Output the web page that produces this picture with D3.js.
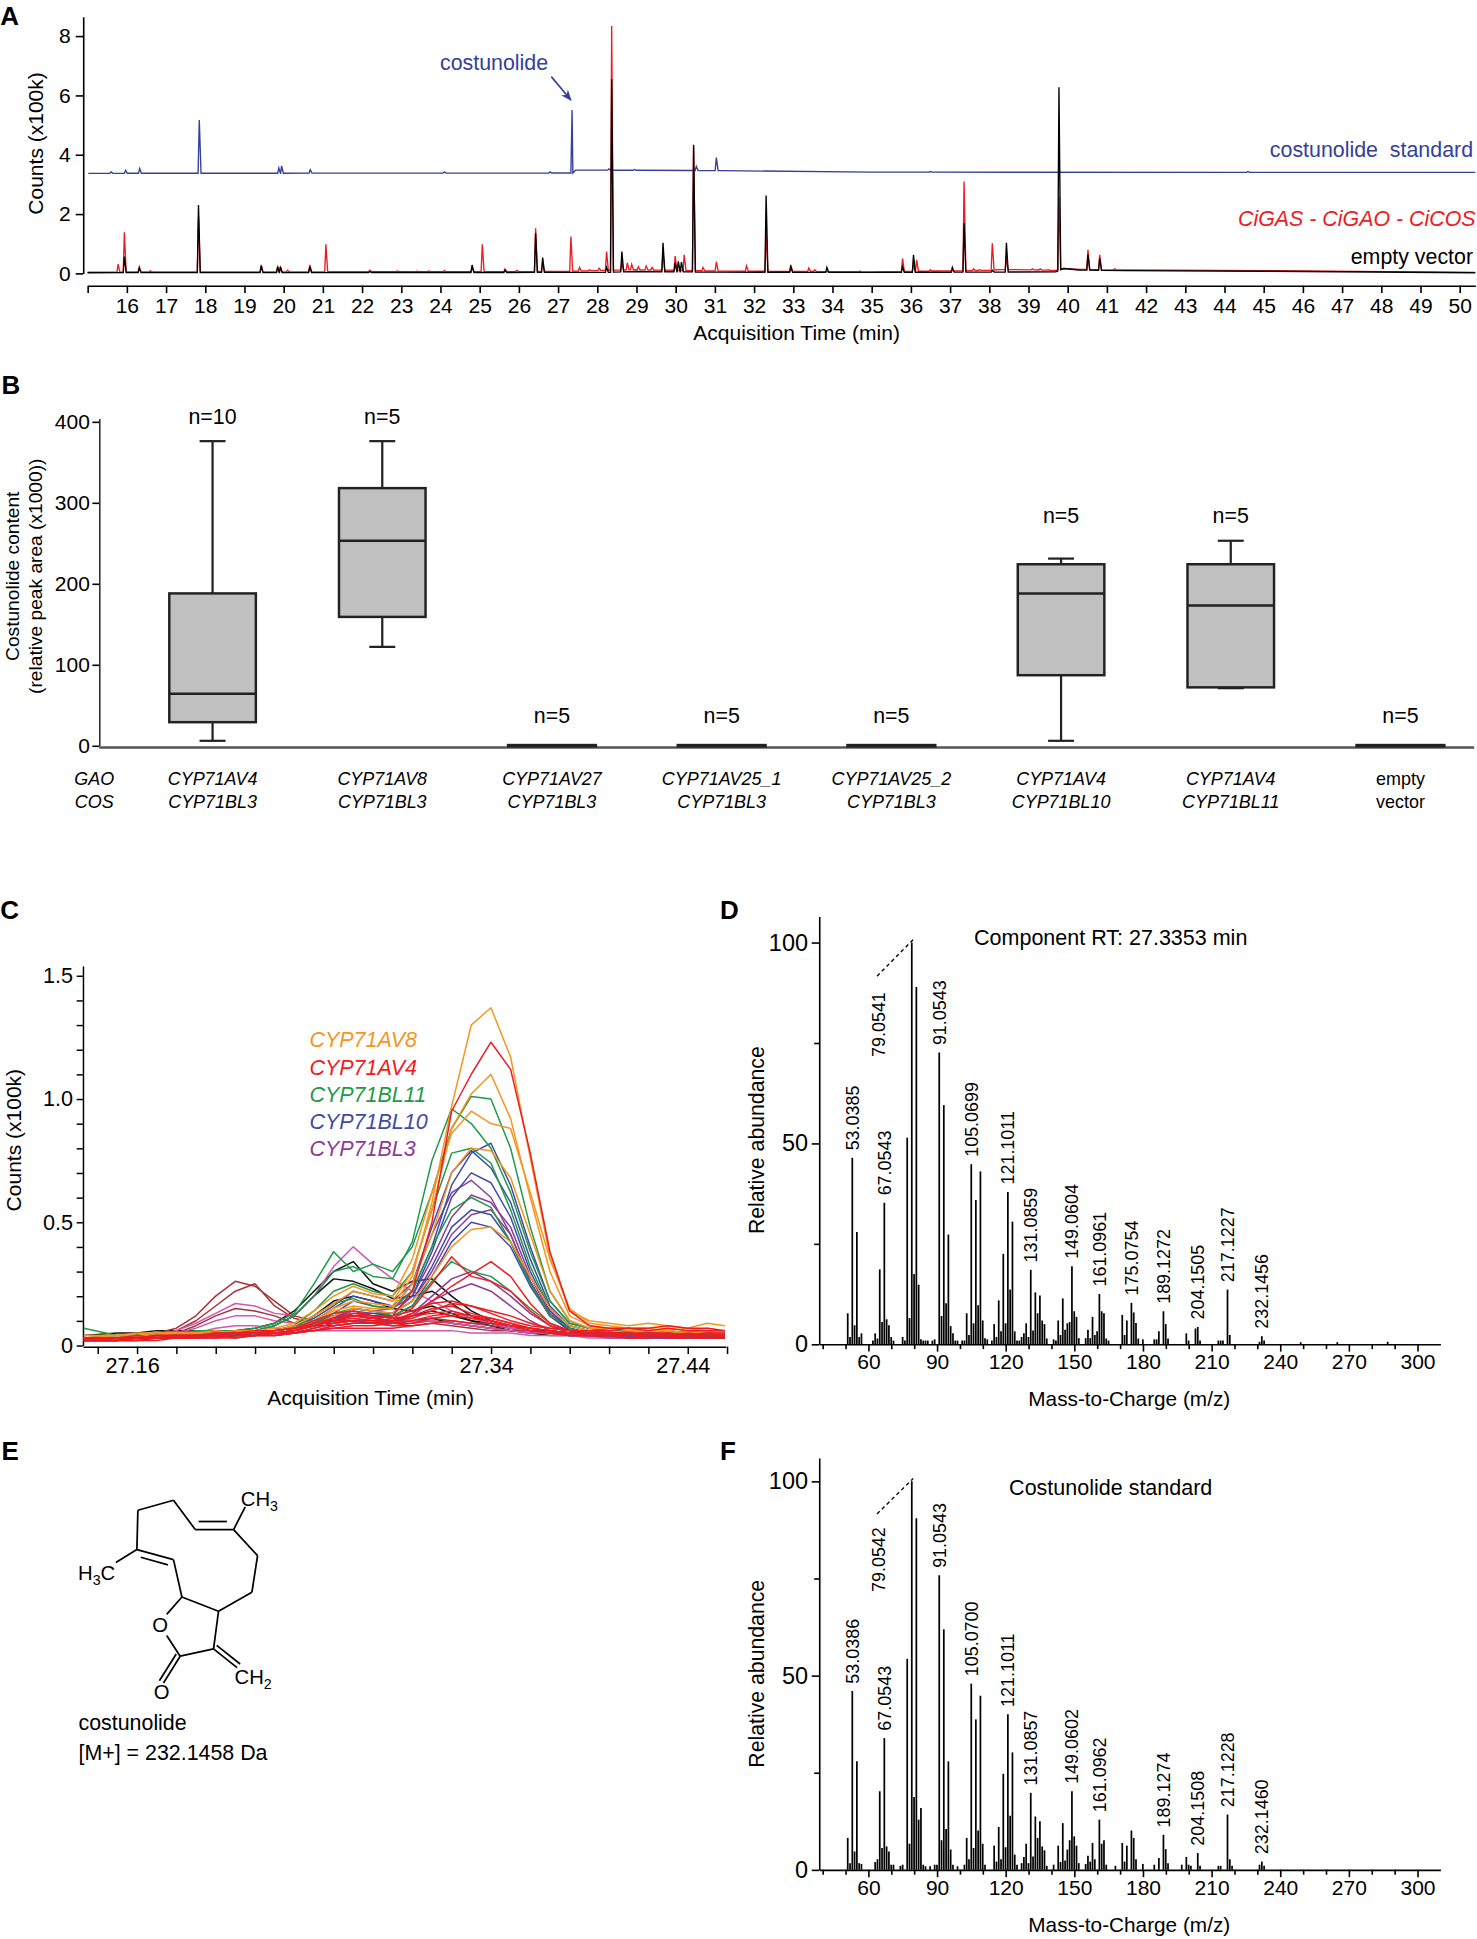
<!DOCTYPE html>
<html>
<head>
<meta charset="utf-8">
<script src="https://cdn.jsdelivr.net/npm/d3@7"></script>
<style>
  body { margin: 0; background: #fff; }
</style>
</head>
<body>
<svg id="fig"></svg>
<script>

// ---------------- Panel A : total ion chromatograms ----------------
const aTimeTicks = d3.range(15, 51);
const aCountTicks = [0, 2, 4, 6, 8];

// costunolide standard (blue), baseline breakpoints and peak apexes [min, x100k]
const stdBaseline = [[15.02, 3.37], [27.38, 3.38], [27.45, 3.48], [31.2, 3.46], [35, 3.41], [50.4, 3.4]];
const stdPeaks = [[15.6, 3.42], [15.97, 3.47], [16.33, 3.53], [17.85, 5.17], [19.88, 3.55], [19.95, 3.62],
    [20.68, 3.49], [24.1, 3.42], [26.8, 3.42], [27.36, 5.5], [28.3, 3.52], [28.95, 3.5], [30.53, 3.6],
    [31.04, 3.9], [36.5, 3.43], [44.6, 3.43]];

// CiGAS - CiGAO - CiCOS (red)
const genBaseline = [[15, 0.04], [27, 0.06], [28.2, 0.1], [29, 0.12], [31, 0.08], [35, 0.05], [38, 0.1],
    [38.4, 0.13], [39.7, 0.1], [39.9, 0.16], [40.3, 0.13], [41.5, 0.11], [45, 0.09], [50.4, 0.03]];
const genPeaks = [[15.78, 0.31], [15.94, 1.38], [16.32, 0.22], [16.6, 0.08], [17.83, 1.9], [19.43, 0.28],
    [19.85, 0.22], [19.92, 0.2], [20.1, 0.1], [20.67, 0.28], [21.08, 0.98], [22.2, 0.1], [22.9, 0.08],
    [23.4, 0.07], [23.7, 0.08], [24.1, 0.09], [24.81, 0.2], [25.07, 0.98], [25.65, 0.15], [25.95, 0.1],
    [26.43, 1.52], [26.61, 0.35], [27.33, 1.24], [27.55, 0.2], [27.8, 0.12], [28.05, 0.17], [28.24, 0.73],
    [28.37, 8.34], [28.63, 0.35], [28.77, 0.35], [28.88, 0.3], [29.05, 0.22], [29.25, 0.25], [29.4, 0.2],
    [29.68, 0.7], [29.99, 0.58], [30.22, 0.62], [30.46, 4.24], [30.7, 0.2], [31.04, 0.39], [31.81, 0.25],
    [32.31, 1.35], [32.94, 0.28], [33.4, 0.18], [33.55, 0.12], [34.7, 0.07], [35.79, 0.5], [36.07, 0.3],
    [36.15, 0.45], [36.5, 0.12], [37.36, 3.09], [37.6, 0.15], [37.75, 0.12], [38.08, 1.01], [38.44, 0.5],
    [39.1, 0.15], [39.3, 0.15], [39.5, 0.12], [39.78, 2.58], [40.52, 0.79], [40.82, 0.62], [41.2, 0.15]];

// empty vector (black)
const vecBaseline = [[15, 0.02], [28.2, 0.03], [29, 0.06], [31, 0.04], [35, 0.03], [38, 0.04], [39.7, 0.05],
    [39.9, 0.16], [40.3, 0.11], [41.5, 0.09], [45, 0.07], [50.4, 0.02]];
const vecPeaks = [[15.94, 0.56], [16.32, 0.17], [17.83, 2.3], [19.43, 0.25], [19.85, 0.22], [19.92, 0.22],
    [20.67, 0.22], [22.2, 0.06], [24.81, 0.28], [25.65, 0.1], [26.43, 1.35], [26.61, 0.53], [28.24, 0.2],
    [28.37, 6.54], [28.63, 0.73], [29.68, 1.03], [29.99, 0.35], [30.07, 0.4], [30.15, 0.38], [30.46, 4.33],
    [32.31, 2.62], [32.94, 0.22], [33.86, 0.2], [35.79, 0.22], [36.07, 0.62], [37.06, 0.2], [37.36, 1.69],
    [38.08, 0.1], [38.44, 1.03], [39.78, 6.27], [40.52, 0.62], [40.82, 0.5]];

const costunolidePeak = [27.36, 5.5];

// ---------------- Panel B : costunolide content box plots ----------------
const gaoNames = ["CYP71AV4", "CYP71AV8", "CYP71AV27", "CYP71AV25_1", "CYP71AV25_2", "CYP71AV4", "CYP71AV4", "empty"];
const cosNames = ["CYP71BL3", "CYP71BL3", "CYP71BL3", "CYP71BL3", "CYP71BL3", "CYP71BL10", "CYP71BL11", "vector"];
const boxMin = [6, 122, 0, 0, 0, 6, 71, 0];
const boxQ1 = [29, 159, 0, 0, 0, 87, 72, 0];
const boxMedian = [64, 253, 0, 0, 0, 188, 173, 0];
const boxQ3 = [188, 318, 0, 0, 0, 224, 224, 0];
const boxMax = [376, 376, 0, 0, 0, 231, 253, 0];
const boxN = [10, 5, 5, 5, 5, 5, 5, 5];
const bContentTicks = [0, 100, 200, 300, 400];

// ---------------- Panel C : extracted chromatograms around 27.34 min ----------------
const cTime = [27.133, 27.15, 27.16, 27.17, 27.18, 27.19, 27.20, 27.21, 27.22, 27.23, 27.24, 27.25,
    27.26, 27.27, 27.28, 27.29, 27.30, 27.31, 27.32, 27.33, 27.34, 27.35, 27.36, 27.37, 27.38, 27.39,
    27.40, 27.41, 27.42, 27.43, 27.44, 27.45, 27.459];
const cTimeTickLabels = [27.16, 27.34, 27.44];
const cLegend = ["CYP71AV8", "CYP71AV4", "CYP71BL11", "CYP71BL10", "CYP71BL3"];

const cBlack = [
    [0.04,0.05,0.05,0.06,0.06,0.06,0.06,0.06,0.07,0.09,0.14,0.22,0.30,0.34,0.25,0.22,0.26,0.27,0.20,0.14,0.10,0.08,0.07,0.06,0.05,0.05,0.04,0.04,0.04,0.04,0.04,0.04,0.04],
    [0.03,0.04,0.04,0.05,0.05,0.05,0.05,0.06,0.06,0.08,0.12,0.20,0.27,0.26,0.23,0.19,0.20,0.22,0.17,0.12,0.09,0.07,0.06,0.05,0.05,0.04,0.04,0.04,0.04,0.04,0.03,0.04,0.04],
    [0.03,0.03,0.03,0.04,0.04,0.04,0.04,0.05,0.05,0.06,0.08,0.12,0.18,0.20,0.18,0.15,0.14,0.16,0.13,0.10,0.08,0.06,0.05,0.05,0.04,0.04,0.04,0.04,0.03,0.04,0.03,0.03,0.03],
    [0.02,0.03,0.03,0.03,0.03,0.04,0.04,0.04,0.04,0.05,0.06,0.08,0.10,0.10,0.09,0.09,0.10,0.11,0.09,0.08,0.07,0.06,0.05,0.04,0.04,0.04,0.03,0.03,0.03,0.03,0.03,0.03,0.03],
    [0.03,0.03,0.04,0.04,0.04,0.04,0.05,0.05,0.05,0.06,0.07,0.09,0.11,0.12,0.11,0.10,0.12,0.14,0.12,0.10,0.09,0.07,0.06,0.06,0.05,0.05,0.05,0.04,0.04,0.05,0.04,0.04,0.04]
];
const cMaroon = [
    [0.03,0.03,0.04,0.05,0.07,0.12,0.20,0.26,0.24,0.18,0.12,0.10,0.10,0.12,0.11,0.10,0.10,0.11,0.10,0.09,0.08,0.07,0.06,0.05,0.05,0.05,0.04,0.04,0.04,0.04,0.04,0.04,0.04],
    [0.03,0.03,0.04,0.04,0.06,0.10,0.16,0.22,0.25,0.16,0.11,0.09,0.09,0.10,0.10,0.09,0.09,0.10,0.09,0.08,0.07,0.06,0.06,0.05,0.05,0.04,0.04,0.04,0.04,0.04,0.04,0.04,0.04],
    [0.02,0.03,0.03,0.04,0.05,0.08,0.12,0.15,0.14,0.12,0.09,0.08,0.08,0.09,0.09,0.08,0.08,0.09,0.08,0.07,0.06,0.06,0.05,0.05,0.04,0.04,0.04,0.04,0.04,0.03,0.04,0.04,0.03]
];
const cPink = [
    [0.03,0.03,0.04,0.04,0.06,0.09,0.13,0.17,0.16,0.13,0.12,0.20,0.32,0.40,0.33,0.27,0.22,0.18,0.14,0.11,0.09,0.07,0.06,0.05,0.05,0.04,0.04,0.04,0.04,0.04,0.04,0.04,0.04],
    [0.02,0.03,0.03,0.04,0.05,0.07,0.10,0.12,0.12,0.10,0.09,0.10,0.12,0.13,0.12,0.11,0.10,0.10,0.09,0.08,0.07,0.06,0.05,0.05,0.04,0.04,0.04,0.04,0.03,0.04,0.03,0.03,0.03],
    [0.02,0.02,0.03,0.03,0.04,0.05,0.07,0.08,0.08,0.07,0.06,0.06,0.06,0.06,0.06,0.06,0.06,0.06,0.06,0.05,0.05,0.05,0.04,0.04,0.04,0.03,0.03,0.03,0.03,0.03,0.03,0.03,0.03]
];
const cPurple = [
    [0.03,0.03,0.03,0.04,0.04,0.04,0.05,0.05,0.05,0.06,0.07,0.09,0.12,0.15,0.14,0.15,0.25,0.45,0.62,0.67,0.60,0.45,0.26,0.12,0.07,0.05,0.05,0.05,0.04,0.04,0.04,0.04,0.04],
    [0.02,0.03,0.03,0.03,0.04,0.04,0.04,0.04,0.05,0.05,0.06,0.08,0.11,0.14,0.13,0.13,0.20,0.35,0.52,0.61,0.58,0.48,0.28,0.13,0.07,0.05,0.05,0.04,0.04,0.04,0.04,0.04,0.04],
    [0.03,0.03,0.03,0.03,0.04,0.04,0.04,0.05,0.05,0.05,0.06,0.08,0.10,0.12,0.12,0.13,0.18,0.30,0.45,0.53,0.55,0.45,0.26,0.12,0.07,0.05,0.05,0.04,0.04,0.04,0.04,0.04,0.04],
    [0.02,0.02,0.03,0.03,0.03,0.03,0.04,0.04,0.04,0.05,0.05,0.07,0.09,0.10,0.10,0.10,0.13,0.20,0.27,0.30,0.26,0.20,0.13,0.08,0.05,0.04,0.04,0.04,0.04,0.03,0.04,0.03,0.03],
    [0.02,0.02,0.02,0.03,0.03,0.03,0.03,0.04,0.04,0.04,0.05,0.06,0.08,0.09,0.09,0.09,0.12,0.18,0.22,0.25,0.22,0.16,0.10,0.06,0.04,0.04,0.04,0.03,0.03,0.03,0.03,0.03,0.03]
];
const cBlue = [
    [0.03,0.03,0.03,0.04,0.04,0.04,0.05,0.05,0.05,0.06,0.07,0.10,0.15,0.20,0.18,0.16,0.22,0.40,0.65,0.78,0.82,0.65,0.40,0.18,0.09,0.07,0.06,0.06,0.05,0.05,0.05,0.05,0.05],
    [0.03,0.03,0.04,0.04,0.04,0.05,0.05,0.05,0.06,0.06,0.08,0.11,0.16,0.22,0.20,0.18,0.25,0.48,0.70,0.79,0.72,0.58,0.35,0.16,0.08,0.06,0.06,0.05,0.05,0.05,0.05,0.05,0.04],
    [0.02,0.03,0.03,0.03,0.04,0.04,0.04,0.05,0.05,0.05,0.06,0.09,0.13,0.18,0.16,0.15,0.20,0.38,0.60,0.70,0.66,0.52,0.30,0.14,0.07,0.05,0.05,0.05,0.04,0.05,0.04,0.04,0.04],
    [0.02,0.02,0.03,0.03,0.03,0.04,0.04,0.04,0.04,0.05,0.06,0.08,0.11,0.15,0.14,0.13,0.18,0.32,0.48,0.55,0.53,0.42,0.25,0.12,0.06,0.05,0.04,0.04,0.04,0.04,0.04,0.04,0.04],
    [0.03,0.03,0.03,0.03,0.04,0.04,0.04,0.04,0.05,0.05,0.06,0.08,0.10,0.13,0.13,0.12,0.16,0.28,0.42,0.50,0.48,0.40,0.24,0.12,0.06,0.05,0.05,0.04,0.04,0.04,0.04,0.04,0.04]
];
const cGreen = [
    [0.07,0.04,0.04,0.05,0.05,0.06,0.06,0.06,0.07,0.09,0.13,0.25,0.38,0.30,0.33,0.30,0.40,0.62,0.88,1.01,1.00,0.80,0.48,0.22,0.10,0.07,0.06,0.06,0.06,0.05,0.06,0.05,0.05],
    [0.03,0.03,0.04,0.04,0.05,0.05,0.05,0.05,0.06,0.08,0.12,0.20,0.30,0.32,0.28,0.27,0.42,0.75,0.96,0.90,0.80,0.62,0.38,0.18,0.09,0.07,0.06,0.06,0.05,0.06,0.05,0.05,0.05],
    [0.03,0.03,0.03,0.04,0.04,0.04,0.05,0.05,0.05,0.06,0.08,0.14,0.22,0.25,0.22,0.20,0.30,0.55,0.78,0.80,0.74,0.55,0.32,0.15,0.08,0.06,0.05,0.05,0.05,0.05,0.05,0.04,0.05],
    [0.02,0.02,0.03,0.03,0.03,0.04,0.04,0.04,0.05,0.06,0.07,0.12,0.17,0.19,0.16,0.15,0.22,0.40,0.55,0.60,0.56,0.42,0.25,0.12,0.07,0.05,0.05,0.04,0.05,0.04,0.04,0.04,0.04],
    [0.02,0.03,0.03,0.03,0.04,0.04,0.04,0.04,0.05,0.05,0.06,0.09,0.13,0.15,0.14,0.12,0.16,0.26,0.34,0.30,0.28,0.22,0.15,0.09,0.06,0.05,0.05,0.05,0.04,0.05,0.04,0.04,0.04]
];
const cOrange = [
    [0.04,0.04,0.05,0.05,0.05,0.05,0.05,0.06,0.06,0.05,0.06,0.10,0.15,0.18,0.17,0.16,0.28,0.58,0.97,1.30,1.37,1.17,0.76,0.36,0.14,0.10,0.09,0.08,0.09,0.08,0.07,0.09,0.08],
    [0.03,0.04,0.04,0.04,0.05,0.04,0.05,0.05,0.06,0.06,0.08,0.12,0.17,0.22,0.20,0.18,0.30,0.55,0.88,1.02,1.10,0.92,0.60,0.30,0.12,0.08,0.07,0.07,0.06,0.07,0.06,0.07,0.06],
    [0.03,0.03,0.04,0.04,0.04,0.05,0.05,0.05,0.06,0.07,0.09,0.14,0.20,0.24,0.21,0.20,0.35,0.62,0.86,0.95,0.90,0.88,0.62,0.35,0.15,0.09,0.08,0.07,0.07,0.06,0.07,0.06,0.06],
    [0.04,0.04,0.04,0.05,0.05,0.05,0.06,0.05,0.06,0.06,0.07,0.10,0.14,0.16,0.15,0.15,0.25,0.45,0.70,0.80,0.79,0.68,0.45,0.22,0.10,0.07,0.07,0.06,0.06,0.06,0.05,0.06,0.06],
    [0.03,0.03,0.03,0.04,0.04,0.04,0.04,0.05,0.05,0.05,0.06,0.08,0.12,0.15,0.14,0.13,0.18,0.28,0.40,0.47,0.48,0.42,0.28,0.15,0.08,0.06,0.06,0.05,0.06,0.05,0.05,0.05,0.05]
];
const cRed = [
    [0.03,0.03,0.03,0.04,0.04,0.04,0.04,0.05,0.05,0.05,0.06,0.08,0.11,0.13,0.12,0.12,0.22,0.50,0.95,1.10,1.23,1.12,0.78,0.38,0.14,0.08,0.07,0.07,0.07,0.08,0.07,0.07,0.06],
    [0.02,0.03,0.03,0.03,0.04,0.04,0.04,0.05,0.06,0.06,0.07,0.09,0.11,0.12,0.12,0.11,0.15,0.25,0.36,0.28,0.26,0.22,0.14,0.08,0.06,0.05,0.05,0.04,0.05,0.04,0.04,0.05,0.04],
    [0.03,0.03,0.03,0.04,0.04,0.04,0.05,0.05,0.05,0.06,0.07,0.08,0.10,0.11,0.10,0.10,0.13,0.18,0.24,0.29,0.34,0.28,0.17,0.09,0.06,0.05,0.05,0.05,0.04,0.05,0.04,0.04,0.04],
    [0.02,0.02,0.03,0.03,0.03,0.04,0.04,0.04,0.05,0.05,0.06,0.08,0.10,0.12,0.11,0.10,0.11,0.14,0.17,0.16,0.14,0.12,0.09,0.07,0.06,0.05,0.05,0.05,0.04,0.04,0.05,0.04,0.04],
    [0.03,0.03,0.03,0.03,0.04,0.04,0.04,0.04,0.04,0.05,0.05,0.06,0.08,0.09,0.09,0.10,0.12,0.15,0.16,0.13,0.11,0.09,0.07,0.06,0.05,0.05,0.04,0.05,0.04,0.04,0.04,0.04,0.04],
    [0.02,0.02,0.02,0.03,0.03,0.03,0.04,0.03,0.04,0.04,0.05,0.07,0.09,0.10,0.09,0.08,0.09,0.11,0.12,0.11,0.10,0.08,0.06,0.05,0.04,0.04,0.04,0.03,0.04,0.03,0.03,0.04,0.03],
    [0.03,0.03,0.04,0.03,0.04,0.04,0.05,0.05,0.05,0.06,0.07,0.10,0.13,0.14,0.12,0.11,0.12,0.13,0.14,0.12,0.10,0.08,0.07,0.06,0.05,0.06,0.05,0.05,0.05,0.05,0.04,0.05,0.05],
    [0.02,0.03,0.03,0.03,0.03,0.04,0.04,0.04,0.05,0.04,0.05,0.06,0.07,0.08,0.08,0.09,0.10,0.12,0.13,0.12,0.11,0.09,0.07,0.05,0.05,0.04,0.04,0.04,0.04,0.04,0.03,0.04,0.04],
    [0.03,0.03,0.03,0.04,0.04,0.04,0.04,0.05,0.05,0.05,0.06,0.08,0.10,0.10,0.11,0.12,0.14,0.17,0.18,0.16,0.13,0.10,0.08,0.07,0.06,0.06,0.06,0.07,0.06,0.07,0.06,0.06,0.06],
    [0.02,0.02,0.02,0.02,0.03,0.03,0.03,0.03,0.04,0.04,0.05,0.06,0.07,0.07,0.07,0.07,0.08,0.09,0.10,0.09,0.09,0.08,0.06,0.05,0.04,0.04,0.04,0.03,0.03,0.04,0.03,0.03,0.03]
];

// ---------------- Panels D and F : mass spectra [m/z, relative abundance] ----------------
const mzTicks = [60, 90, 120, 150, 180, 210, 240, 270, 300];
const abundanceTicks = [0, 50, 100];

const spectrumSample = [[51,7.7],[52,1.8],[53,46.4],[54,4.7],[55,27.9],[56,1.8],[57,2.7],[62,0.9],[63,2.7],[64,1.4],
    [65,18.6],[66,5.5],[67,35.2],[68,6.2],[69,4.7],[70,1.8],[71,0.9],[75,1.8],[76,0.9],[77,51.4],[78,6.5],[79,100],
    [80,17.5],[81,88.9],[82,14.8],[83,1.2],[84,0.9],[85,0.9],[86,0.9],[88,0.9],[89,1.2],[91,72.6],[92,7],[93,59.5],
    [94,10.2],[95,27.3],[96,4.5],[97,2.7],[98,0.9],[99,0.9],[101,0.9],[102,0.9],[103,7.7],[104,2.3],[105,44.8],
    [106,5.2],[107,35.9],[108,9.7],[109,43],[110,5.9],[111,1.5],[112,1.2],[114,0.9],[115,5],[116,1.8],[117,10.9],
    [118,3.2],[119,22.5],[120,5.2],[121,37.9],[122,13.6],[123,30.5],[124,3.2],[125,0.9],[126,0.9],[127,1.8],
    [128,2.7],[129,5.2],[130,1.8],[131,18.5],[132,3.4],[133,12.9],[134,7.7],[135,12.1],[136,5.9],[137,5],[138,1.4],
    [141,1.2],[142,0.9],[143,5.9],[144,2.3],[145,11.4],[146,3.6],[147,5.2],[148,5.5],[149,19.4],[150,8.2],[151,6.8],
    [152,1.5],[155,1.5],[156,3.6],[157,1.5],[158,6.8],[159,2.3],[160,3.2],[161,12.5],[162,8.2],[163,7.7],[164,1.4],
    [165,0.9],[171,7.3],[172,2.3],[173,5.9],[175,10.3],[176,7.9],[177,5.3],[178,1.4],[180,1.2],[185,1.2],[186,1.2],
    [187,3.2],[189,8.2],[190,5],[191,1.4],[199,2.7],[200,0.9],[203,3.9],[204,4.3],[205,0.9],[213,0.9],[214,0.9],
    [215,0.9],[217,13.6],[218,2.3],[231,0.6],[232,2],[233,0.9],[249,0.5],[265,0.5],[287,0.6]];
const labelsSample = [[53,"53.0385"],[67,"67.0543"],[91,"91.0543"],[105,"105.0699"],[121,"121.1011"],
    [131,"131.0859"],[149,"149.0604"],[161,"161.0961"],[175,"175.0754"],[189,"189.1272"],[204,"204.1505"],
    [217,"217.1227"],[232,"232.1456"]];
const basePeakSample = "79.0541";

const spectrumStandard = [[51,8.2],[52,1.7],[53,46],[54,4.7],[55,27.9],[56,1.7],[57,1.5],[63,2],[64,2.7],[65,20.2],
    [66,5.6],[67,33.9],[68,6],[69,4.7],[70,1.3],[71,1.3],[74,1],[75,1.3],[77,54.3],[78,6.7],[79,100],[80,18.7],
    [81,90.5],[82,12.9],[83,15.9],[84,1.3],[85,0.9],[87,0.9],[89,1.3],[90,1.3],[91,75.8],[92,7.6],[93,61.9],
    [94,10.5],[95,27.9],[96,5.2],[97,1.3],[99,0.9],[102,1.3],[103,8.2],[104,2.7],[105,47.9],[106,5.6],[107,38.7],
    [108,10.1],[109,44.8],[110,6.7],[111,1.3],[115,6.2],[116,2.1],[117,11],[118,2.7],[119,24.7],[120,5.8],
    [121,40],[122,13.9],[123,30.2],[124,3.9],[125,1.3],[127,1.7],[128,3.3],[129,6.7],[130,1.7],[131,19.8],
    [132,3.4],[133,13.7],[134,8.2],[135,12.5],[136,6],[137,5],[138,1],[141,1.3],[143,6.2],[144,2],[145,12],
    [146,2.4],[147,5.2],[148,7.6],[149,20.2],[150,8.6],[151,6.2],[152,1.7],[155,1.5],[156,3.6],[157,2.1],
    [158,6.9],[159,2.7],[161,12.9],[162,6.7],[163,7.6],[164,1.3],[168,1],[171,6.9],[172,2.1],[173,6.2],
    [175,10.1],[176,8.2],[177,2.7],[180,1.5],[185,1.3],[187,3],[189,9],[190,5.3],[191,1.7],[197,1.3],[199,3.3],
    [200,1.3],[201,1],[204,4.3],[205,1],[213,1],[214,1],[217,14.2],[218,2.7],[219,1],[231,1.3],[232,2.1],[233,1]];
const labelsStandard = [[53,"53.0386"],[67,"67.0543"],[91,"91.0543"],[105,"105.0700"],[121,"121.1011"],
    [131,"131.0857"],[149,"149.0602"],[161,"161.0962"],[189,"189.1274"],[204,"204.1508"],[217,"217.1228"],
    [232,"232.1460"]];
const basePeakStandard = "79.0542";


// ---------------- drawing ----------------
const fontFamily = '"Liberation Sans", Arial, Helvetica, sans-serif';
const blueStd = "#33409c";
const redGen = "#ed1c24";

const svg = d3.select("#fig")
    .attr("width", 1477)
    .attr("height", 1939)
    .attr("viewBox", "0 0 1194 1568")
    .style("font-family", fontFamily);

svg.append("rect").attr("width", 1194).attr("height", 1568).attr("fill", "#fff");

function addText(g, x, y, str, size, opts) {
    opts = opts || {};
    let t = g.append("text")
        .attr("x", x)
        .attr("y", y)
        .attr("font-size", size)
        .attr("fill", opts.fill || "#000")
        .text(str);
    if (opts.anchor) t.attr("text-anchor", opts.anchor);
    if (opts.italic) t.attr("font-style", "italic");
    if (opts.bold) t.attr("font-weight", "bold");
    if (opts.rotate) t.attr("transform", "rotate(-90," + x + "," + y + ")").attr("dy", "0.35em");
    return t;
}

// Restyle a d3 axis group
function styleAxis(g, size, width) {
    g.attr("font-family", fontFamily);
    g.selectAll("text").attr("font-size", size).attr("fill", "#000");
    g.selectAll("line").attr("stroke", "#000").attr("stroke-width", width || 1.3);
    g.select(".domain").attr("stroke", "#000").attr("stroke-width", width || 1.3);
}

// Build a chromatogram line from baseline breakpoints and peak apexes
function spikeSeries(baseline, peaks) {
    let base = d3.scaleLinear()
        .domain(baseline.map(d => d[0]))
        .range(baseline.map(d => d[1]));
    let pts = baseline.slice();
    peaks.forEach(p => {
        pts.push([p[0] - 0.03, base(p[0] - 0.03)], [p[0], p[1]], [p[0] + 0.045, base(p[0] + 0.045)]);
    });
    return pts.sort((a, b) => a[0] - b[0]);
}

// Panel letters
[["A", 0, 20.5], ["B", 1, 319], ["C", 0, 743], ["D", 582, 743], ["E", 1, 1181], ["F", 582, 1181]]
    .forEach(d => addText(svg, d[1], d[2], d[0], 21, {bold: true}));


// ===== Panel A =====
(function drawPanelA() {
    let g = svg.append("g");
    let x = d3.scaleLinear().domain([15, 50.4]).range([70.6, 1192.8]);
    let y = d3.scaleLinear().domain([0, 8.65]).range([221, 13.5]);

    let yAxis = g.append("g")
        .attr("transform", "translate(67,0)")
        .call(d3.axisLeft(y).tickValues(aCountTicks).tickSize(6).tickSizeOuter(0).tickPadding(4));
    styleAxis(yAxis, 17);

    let xAxis = g.append("g")
        .attr("transform", "translate(0,231)")
        .call(d3.axisBottom(x).tickValues(aTimeTicks).tickSize(6).tickSizeOuter(0).tickPadding(4)
            .tickFormat(d => d === 15 ? "" : d));
    styleAxis(xAxis, 17);

    addText(g, 28.5, 116, "Counts (x100k)", 17, {anchor: "middle", rotate: true});
    addText(g, 644, 275, "Acquisition Time (min)", 17, {anchor: "middle"});

    let line = d3.line().x(d => x(d[0])).y(d => y(d[1]));

    g.append("path").datum(spikeSeries(stdBaseline, stdPeaks))
        .attr("d", line).attr("fill", "none").attr("stroke", blueStd).attr("stroke-width", 1.1);
    g.append("path").datum(spikeSeries(genBaseline, genPeaks))
        .attr("d", line).attr("fill", "none").attr("stroke", redGen).attr("stroke-width", 1.1);
    g.append("path").datum(spikeSeries(vecBaseline, vecPeaks))
        .attr("d", line).attr("fill", "none").attr("stroke", "#000").attr("stroke-width", 1.1);

    // costunolide annotation and arrow
    svg.append("defs").append("marker")
        .attr("id", "arrowBlue")
        .attr("viewBox", "0 0 10 10")
        .attr("refX", 9).attr("refY", 5)
        .attr("markerWidth", 9).attr("markerHeight", 9)
        .attr("orient", "auto-start-reverse")
        .attr("markerUnits", "userSpaceOnUse")
        .append("path").attr("d", "M0,1 L10,5 L0,9 L3,5 Z").attr("fill", blueStd);

    addText(g, x(costunolidePeak[0] - 1.99), y(7.1) + 6, "costunolide", 17.3, {anchor: "middle", fill: blueStd});
    g.append("line")
        .attr("x1", x(costunolidePeak[0] - 0.53)).attr("y1", y(6.63))
        .attr("x2", x(costunolidePeak[0] - 0.03)).attr("y2", y(costunolidePeak[1] + 0.34))
        .attr("stroke", blueStd).attr("stroke-width", 1.3)
        .attr("marker-end", "url(#arrowBlue)");

    addText(g, 1191, 127, "costunolide  standard", 17.3, {anchor: "end", fill: blueStd})
        .style("white-space", "pre");
    addText(g, 1193, 182.5, "CiGAS - CiGAO - CiCOS", 17.3, {anchor: "end", fill: redGen, italic: true});
    addText(g, 1191, 213.5, "empty vector", 17.3, {anchor: "end"});
})();


// ===== Panel B =====
(function drawPanelB() {
    let g = svg.append("g");
    let idx = d3.range(gaoNames.length);
    let x = d3.scalePoint().domain(idx).range([171.7, 1132.3]);
    let y = d3.scaleLinear().domain([0, 404]).range([603, 338.4]);
    let boxW = 70, capW = 21;

    let yAxis = g.append("g")
        .attr("transform", "translate(80,0)")
        .call(d3.axisLeft(y).tickValues(bContentTicks).tickSize(5.5).tickSizeOuter(0).tickPadding(2));
    styleAxis(yAxis, 17);
    yAxis.select(".domain").attr("stroke", "#333");

    g.append("line")
        .attr("x1", 80).attr("x2", 1192)
        .attr("y1", y(0) + 1.5).attr("y2", y(0) + 1.5)
        .attr("stroke", "#555").attr("stroke-width", 2);

    addText(g, 9.5, 466, "Costunolide content", 15.5, {anchor: "middle", rotate: true});
    addText(g, 28.6, 466, "(relative peak area (x1000))", 15.5, {anchor: "middle", rotate: true});

    let boxes = g.selectAll(".box").data(idx).enter().append("g").attr("class", "box");

    // whiskers
    boxes.append("line")
        .attr("x1", i => x(i)).attr("x2", i => x(i))
        .attr("y1", i => y(boxMax[i])).attr("y2", i => y(boxQ3[i]))
        .attr("stroke", "#222").attr("stroke-width", 1.8);
    boxes.append("line")
        .attr("x1", i => x(i)).attr("x2", i => x(i))
        .attr("y1", i => y(boxQ1[i])).attr("y2", i => y(boxMin[i]))
        .attr("stroke", "#222").attr("stroke-width", 1.8);
    boxes.append("line")
        .attr("x1", i => x(i) - capW / 2).attr("x2", i => x(i) + capW / 2)
        .attr("y1", i => y(boxMax[i])).attr("y2", i => y(boxMax[i]))
        .attr("stroke", "#222").attr("stroke-width", 1.8);
    boxes.append("line")
        .attr("x1", i => x(i) - capW / 2).attr("x2", i => x(i) + capW / 2)
        .attr("y1", i => y(boxMin[i])).attr("y2", i => y(boxMin[i]))
        .attr("stroke", "#222").attr("stroke-width", 1.8);

    boxes.append("rect")
        .attr("x", i => x(i) - boxW / 2)
        .attr("y", i => y(boxQ3[i]))
        .attr("width", boxW)
        .attr("height", i => Math.max(y(boxQ1[i]) - y(boxQ3[i]), 0.01))
        .attr("fill", "#c0c0c0")
        .attr("stroke", "#222").attr("stroke-width", i => boxQ3[i] === 0 ? 3 : 2);
    boxes.append("line")
        .attr("x1", i => x(i) - boxW / 2).attr("x2", i => x(i) + boxW / 2)
        .attr("y1", i => y(boxMedian[i])).attr("y2", i => y(boxMedian[i]))
        .attr("stroke", "#222").attr("stroke-width", 2);

    // sample size sits above the whisker, or above the box when the whisker is short
    boxes.append("text")
        .attr("x", i => x(i))
        .attr("y", i => boxMax[i] === 0 ? y(0) - 18 : y(Math.max(boxMax[i], boxQ3[i] + 30)) - 14)
        .attr("text-anchor", "middle")
        .attr("font-size", 17.3)
        .text(i => "n=" + boxN[i]);

    addText(g, 76, 635, "GAO", 14.5, {anchor: "middle", italic: true});
    addText(g, 76, 653, "COS", 14.5, {anchor: "middle", italic: true});
    boxes.append("text")
        .attr("x", i => x(i)).attr("y", 635)
        .attr("text-anchor", "middle").attr("font-size", 14.5)
        .attr("font-style", i => gaoNames[i] === "empty" ? "normal" : "italic")
        .text(i => gaoNames[i]);
    boxes.append("text")
        .attr("x", i => x(i)).attr("y", 653)
        .attr("text-anchor", "middle").attr("font-size", 14.5)
        .attr("font-style", i => cosNames[i] === "vector" ? "normal" : "italic")
        .text(i => cosNames[i]);
})();


// ===== Panel C =====
(function drawPanelC() {
    let g = svg.append("g");
    let x = d3.scaleLinear().domain([27.1325, 27.4594]).range([66.8, 586.7]);
    let y = d3.scaleLinear().domain([0, 1.54]).range([1088, 781]);

    let yTicks = d3.range(0, 16).map(i => i / 10);
    let yAxis = g.append("g")
        .attr("transform", "translate(66.8,0)")
        .call(d3.axisLeft(y).tickValues(yTicks).tickSize(5).tickSizeOuter(0).tickPadding(3)
            .tickFormat(d => {
                let k = Math.round(d * 10);
                if (k % 5 !== 0) return "";
                return k === 0 ? "0" : d.toFixed(1);
            }));
    styleAxis(yAxis, 17.5, 1.2);

    let xTicks = d3.range(0, 17).map(i => +(27.14 + i * 0.02).toFixed(2));
    let xAxis = g.append("g")
        .attr("transform", "translate(0,1089)")
        .call(d3.axisBottom(x).tickValues(xTicks).tickSize(6).tickSizeOuter(0).tickPadding(3)
            .tickFormat(d => cTimeTickLabels.indexOf(d) >= 0 ? d.toFixed(2) : ""));
    styleAxis(xAxis, 17.5, 1.2);
    xAxis.selectAll("text").attr("dx", -4);

    addText(g, 11, 922, "Counts (x100k)", 17, {anchor: "middle", rotate: true});
    addText(g, 299.5, 1136, "Acquisition Time (min)", 17, {anchor: "middle"});

    let line = d3.line().x((d, i) => x(cTime[i])).y(d => y(d));
    let groups = [
        [cBlack, "#111111"], [cMaroon, "#a4343c"], [cPink, "#d157b3"], [cPurple, "#8e3a96"],
        [cBlue, "#3f4aa8"], [cGreen, "#1e9a4a"], [cOrange, "#f7941d"], [cRed, "#ed1c24"]
    ];
    groups.forEach(grp => {
        g.append("g").selectAll("path").data(grp[0]).enter().append("path")
            .attr("d", line)
            .attr("fill", "none")
            .attr("stroke", grp[1])
            .attr("stroke-width", 1.2)
            .attr("stroke-linejoin", "round");
    });

    let legendColors = ["#f7941d", "#ed1c24", "#1e9a4a", "#3f4aa8", "#8e3a96"];
    cLegend.forEach((name, i) => {
        addText(g, 250, 847 + i * 22, name, 17.4, {italic: true, fill: legendColors[i]});
    });
})();


// ===== Panels D and F =====
function drawSpectrum(top, zeroY, topY, topValue, title, spectrum, labels, basePeakLabel) {
    let g = svg.append("g");
    let x = d3.scaleLinear().domain([38.5, 310]).range([662.2, 1164.5]);
    let y = d3.scaleLinear().domain([0, topValue]).range([zeroY, topY]);

    let yAxis = g.append("g")
        .attr("transform", "translate(662.2,0)")
        .call(d3.axisLeft(y).tickValues([0, 25, 50, 75, 100]).tickSize(6).tickSizeOuter(0).tickPadding(3)
            .tickFormat(d => abundanceTicks.indexOf(d) >= 0 ? d : ""));
    styleAxis(yAxis, 19, 1.3);
    yAxis.selectAll(".tick line").attr("x2", d => abundanceTicks.indexOf(d) >= 0 ? -6 : -4);

    let xAxis = g.append("g")
        .attr("transform", "translate(0," + zeroY + ")")
        .call(d3.axisBottom(x).tickValues(d3.range(40, 310, 10)).tickSize(6).tickSizeOuter(0).tickPadding(2)
            .tickFormat(d => mzTicks.indexOf(d) >= 0 ? d : ""));
    styleAxis(xAxis, 17, 1.3);
    xAxis.selectAll(".tick line").attr("y2", d => mzTicks.indexOf(d) >= 0 ? 6 : 4);

    addText(g, 611.6, (zeroY + topY) / 2 + 8, "Relative abundance", 17.2, {anchor: "middle", rotate: true});
    addText(g, 913, zeroY + 50, "Mass-to-Charge (m/z)", 16.8, {anchor: "middle"});
    addText(g, 898, top, title, 17.4, {anchor: "middle"});

    g.append("g").selectAll("line").data(spectrum).enter().append("line")
        .attr("x1", d => x(d[0])).attr("x2", d => x(d[0]))
        .attr("y1", y(0)).attr("y2", d => y(d[1]))
        .attr("stroke", "#000").attr("stroke-width", 1.4);

    let height = {};
    spectrum.forEach(d => { height[d[0]] = d[1]; });

    labels.forEach(l => {
        addText(g, x(l[0]), y(height[l[0]]) - 6, l[1], 14.5, {rotate: true});
    });

    // base peak label sits to the left with a dashed leader line
    addText(g, x(64.5), y(71.5), basePeakLabel, 14.5, {rotate: true});
    g.append("line")
        .attr("x1", x(63.8)).attr("y1", y(91.6))
        .attr("x2", x(79.6)).attr("y2", y(100.7))
        .attr("stroke", "#000").attr("stroke-width", 1.1)
        .attr("stroke-dasharray", "3,2.5");
}

drawSpectrum(764, 1087, 741, 106.5, "Component RT: 27.3353 min", spectrumSample, labelsSample, basePeakSample);
drawSpectrum(1209, 1512, 1179, 106, "Costunolide standard", spectrumStandard, labelsStandard, basePeakStandard);


// ===== Panel E : costunolide structure =====
(function drawPanelE() {
    let g = svg.append("g").attr("stroke", "#000").attr("stroke-width", 1.4).attr("fill", "none");
    let atoms = {
        a1: [111.3, 1221.3], a2: [140.1, 1213.2], a3: [157.7, 1236.9], a4: [188.7, 1236.9],
        me1: [198.1, 1218.6], a5: [208.1, 1258], a6: [203.5, 1287.6], a7: [176.5, 1303],
        a8: [146.9, 1291.4], a9: [140.1, 1261.2], a10: [110.5, 1253.1], me2: [93.5, 1263.5],
        o1a: [134.6, 1305.5], o1b: [134.6, 1322.5], c12: [145.5, 1339.3], o2: [132, 1361],
        a11: [172.5, 1333.4], ch2: [191.5, 1348.5]
    };
    let bonds = [
        ["a1", "a2"], ["a2", "a3"], ["a3", "a4"], ["a4", "me1"], ["a4", "a5"], ["a5", "a6"], ["a6", "a7"],
        ["a7", "a8"], ["a8", "a9"], ["a9", "a10"], ["a10", "a1"], ["a10", "me2"], ["a8", "o1a"],
        ["o1b", "c12"], ["c12", "o2"], ["c12", "a11"], ["a11", "a7"], ["a11", "ch2"]
    ];
    bonds.forEach(b => {
        g.append("line")
            .attr("x1", atoms[b[0]][0]).attr("y1", atoms[b[0]][1])
            .attr("x2", atoms[b[1]][0]).attr("y2", atoms[b[1]][1]);
    });
    // second lines of the double bonds
    [[[160.4, 1230.4], [183.3, 1230.4]], [[113.6, 1259.3], [135.6, 1265.4]],
     [[142.3, 1337.6], [128.7, 1359.2]], [[175, 1330.5], [194, 1345.6]]].forEach(b => {
        g.append("line").attr("x1", b[0][0]).attr("y1", b[0][1]).attr("x2", b[1][0]).attr("y2", b[1][1]);
    });

    let t = svg.append("g").attr("font-size", 16.4);
    let ch3 = t.append("text").attr("x", 194.5).attr("y", 1218);
    ch3.append("tspan").text("CH");
    ch3.append("tspan").attr("font-size", 11.5).attr("dy", 4).text("3");
    let h3c = t.append("text").attr("x", 93).attr("y", 1277.5).attr("text-anchor", "end");
    h3c.append("tspan").text("H");
    h3c.append("tspan").attr("font-size", 11.5).attr("dy", 4).text("3");
    h3c.append("tspan").attr("dy", -4).text("C");
    t.append("text").attr("x", 129.4).attr("y", 1319.5).attr("text-anchor", "middle").text("O");
    t.append("text").attr("x", 130.5).attr("y", 1374).attr("text-anchor", "middle").text("O");
    let ch2 = t.append("text").attr("x", 189.5).attr("y", 1361.5);
    ch2.append("tspan").text("CH");
    ch2.append("tspan").attr("font-size", 11.5).attr("dy", 4).text("2");

    addText(svg, 63.3, 1399, "costunolide", 17.3);
    addText(svg, 63.3, 1423.5, "[M+] = 232.1458 Da", 17.3);
})();

</script>
</body>
</html>
